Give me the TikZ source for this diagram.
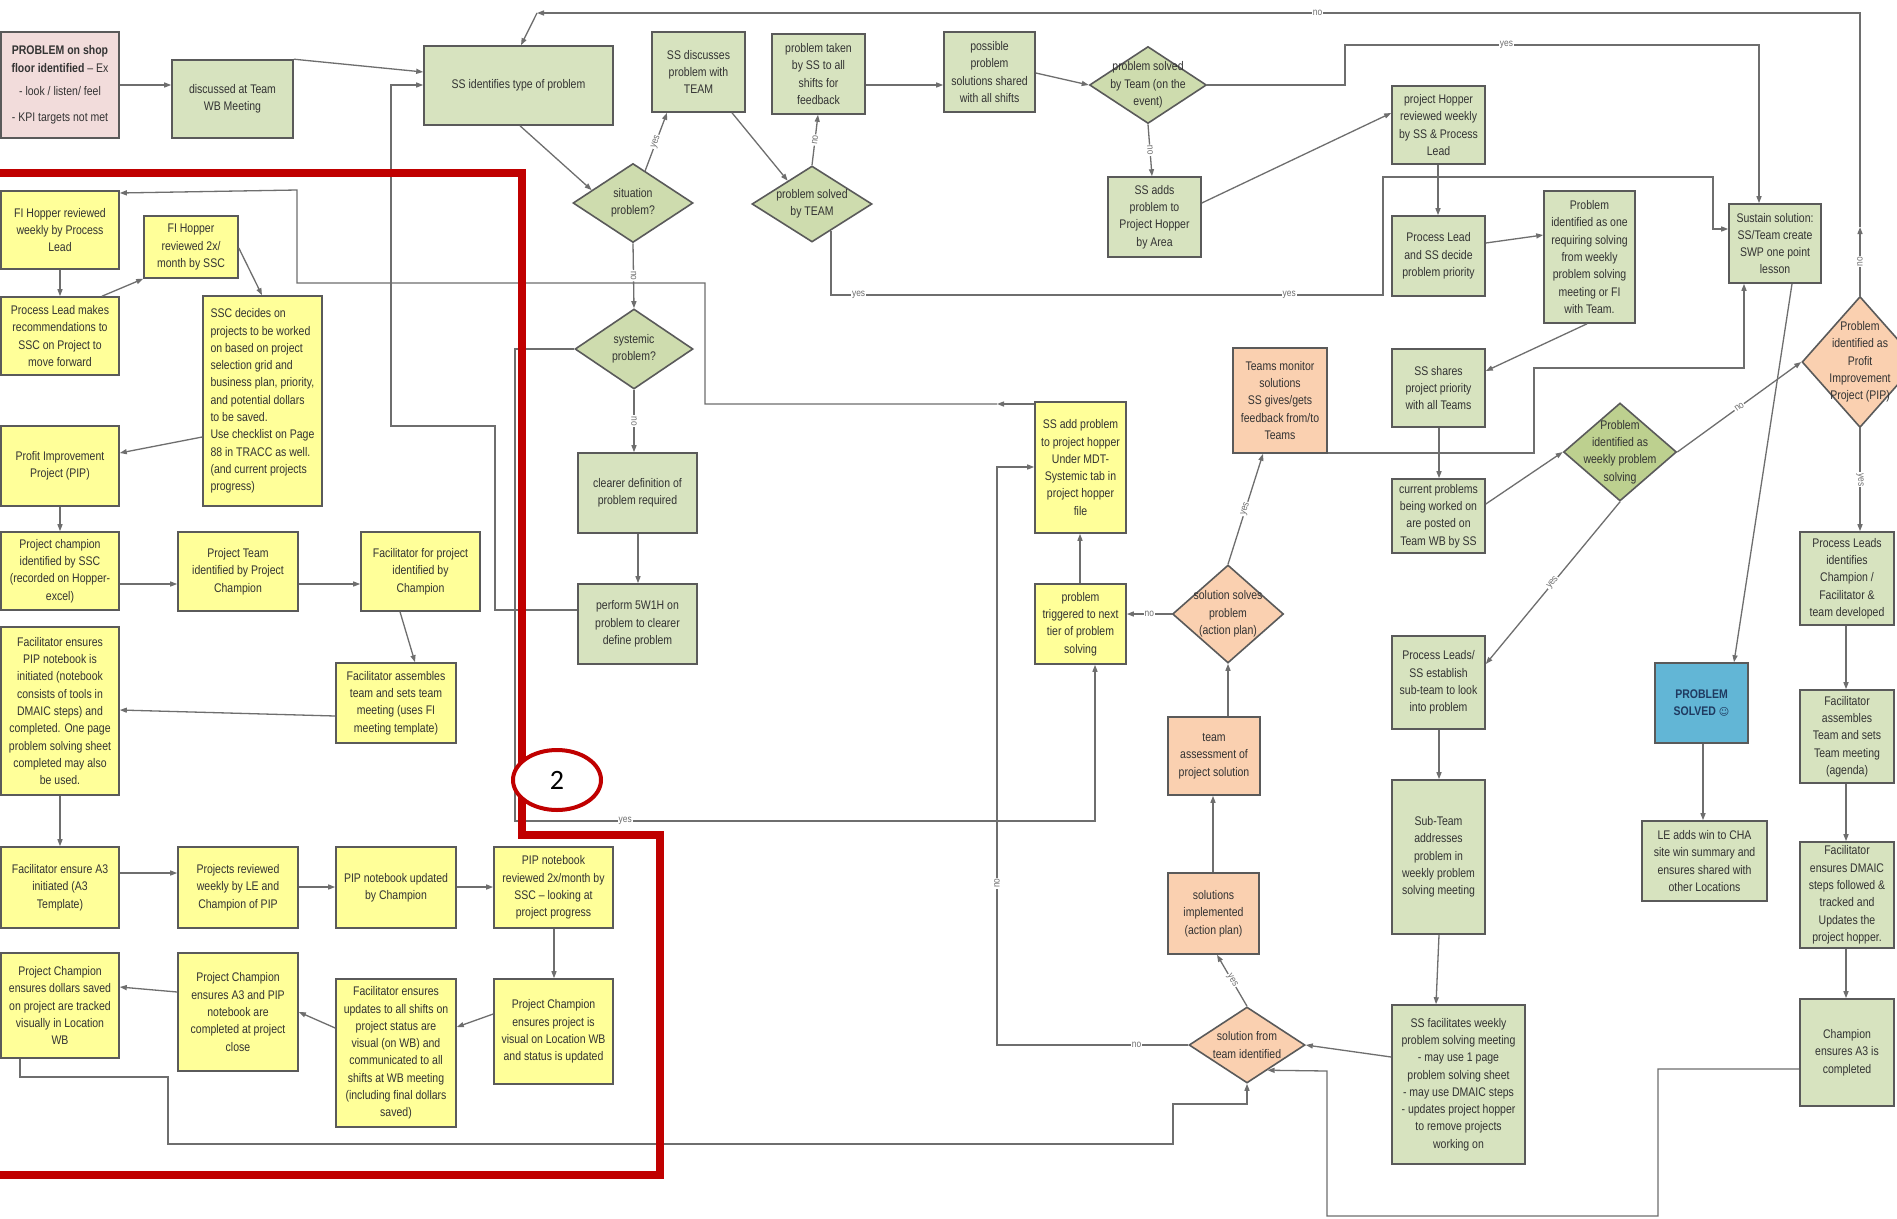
\documentclass[tikz,border=0pt]{standalone}
\usepackage{fontspec}
\setmainfont{Liberation Sans}[FakeStretch=0.84]
\newfontfamily\symf{DejaVu Sans}
\newfontfamily\calf{Carlito}
\usetikzlibrary{shapes.geometric,arrows.meta,calc}
\definecolor{gfill}{HTML}{D7E3BF}
\definecolor{dgfill}{HTML}{CEDCAE}
\definecolor{dkfill}{HTML}{BDD08F}
\definecolor{yfill}{HTML}{FFFF99}
\definecolor{ofill}{HTML}{FAD0B0}
\definecolor{pfill}{HTML}{F2DCDB}
\definecolor{bfill}{HTML}{62B6D6}
\definecolor{edgec}{HTML}{5A5A5A}
\definecolor{lnc}{HTML}{6E6E6E}
\definecolor{txtc}{HTML}{333333}
\definecolor{redl}{HTML}{C00000}
\definecolor{navy}{HTML}{1F3A60}
\tikzset{
  shp/.style={draw=edgec, line width=1.6pt, inner sep=0pt},
  gbx/.style={shp, rectangle, fill=gfill},
  ybx/.style={shp, rectangle, fill=yfill},
  obx/.style={shp, rectangle, fill=ofill},
  pbx/.style={shp, rectangle, fill=pfill},
  bbx/.style={shp, rectangle, fill=bfill},
  dgn/.style={shp, fill=dgfill},
  dgk/.style={shp, fill=dkfill},
  dor/.style={shp, fill=ofill},
  txtn/.style={font=\fontsize{12.5}{17.3}\selectfont, text=txtc, align=center, inner sep=0pt},
  conn/.style={draw=lnc, line width=1.3pt, -{Triangle[length=7pt,width=5pt]}},
  lbl/.style={font=\fontsize{10}{11}\selectfont, text=lnc, fill=white, inner sep=1pt},
}
\newcommand\mybox[8][]{%
  \node[#2, minimum width={#6-#4}, minimum height={#7-#5}] (#3) at ({(#4+#6)/2},{(#5+#7)/2}) {};
  \node[txtn,#1] at (#3.center) {#8};}
\newcommand\mydia[8][]{%
  \node[#2, diamond, minimum width=#6, minimum height=#7] (#3) at (#4,#5) {};
  \node[txtn,#1] at (#3.center) {#8};}
\begin{document}
\begin{tikzpicture}[x=1pt,y=-1pt]
\fill[white] (0,0) rectangle (1897,1218);
\useasboundingbox (0,0) rectangle (1897,1218);
% ---------- top / centre green part
\mybox{pbx}{prob}{1}{32}{119}{138}{\textbf{PROBLEM on shop}\\\textbf{floor identified} -- Ex\\[6pt]- look / listen/ feel\\[9pt]- KPI targets not met}
\mybox{gbx}{disc}{172}{60}{293}{138}{discussed at Team\\WB Meeting}
\mybox{gbx}{ssid}{424}{46}{613}{125}{SS identifies type of problem}
\mybox{gbx}{ssd}{652}{32}{745}{112}{SS discusses\\problem with\\TEAM}
\mybox{gbx}{ptk}{772}{34}{865}{114}{problem taken\\by SS to all\\shifts for\\feedback}
\mybox{gbx}{pos}{944}{32}{1035}{112}{possible\\problem\\solutions shared\\with all shifts}
\mydia{dgn}{pse}{1148}{85}{117}{77}{problem solved\\by Team (on the\\event)}
\mybox{gbx}{ssa}{1108}{177}{1201}{257}{SS adds\\problem to\\Project Hopper\\by Area}
\mydia{dgn}{sit}{633}{203}{120}{79}{situation\\problem?}
\mydia{dgn}{ps2}{812}{204}{120}{76}{problem solved\\by TEAM}
\mydia{dgn}{sys}{634}{349}{118}{80}{systemic\\problem?}
\mybox{gbx}{clr}{578}{453}{697}{533}{clearer definition of\\problem required}
\mybox{gbx}{p5w}{578}{584}{697}{664}{perform 5W1H on\\problem to clearer\\define problem}
% ---------- right part
\mybox{gbx}{phr}{1392}{86}{1485}{164}{project Hopper\\reviewed weekly\\by SS \& Process\\Lead}
\mybox{gbx}{pld}{1392}{216}{1485}{296}{Process Lead\\and SS decide\\problem priority}
\mybox{gbx}{pir}{1544}{191}{1635}{323}{Problem\\identified as one\\requiring solving\\from weekly\\problem solving\\meeting or FI\\with Team.}
\mybox{gbx}{sust}{1729}{204}{1821}{283}{Sustain solution:\\SS/Team create\\SWP one point\\lesson}
\mydia{dor}{pipd}{1860}{362}{116}{131}{Problem\\identified as\\Profit\\Improvement\\Project (PIP)}
\mybox{obx}{tm}{1233}{348}{1327}{453}{Teams monitor\\solutions\\SS gives/gets\\feedback from/to\\Teams}
\mybox{gbx}{sss}{1392}{349}{1485}{427}{SS shares\\project priority\\with all Teams}
\mybox{gbx}{cur}{1392}{479}{1485}{553}{current problems\\being worked on\\are posted on\\Team WB by SS}
\mydia{dgk}{wk}{1620}{452}{113}{98}{Problem\\identified as\\weekly problem\\solving}
\mybox{ybx}{shp}{1035}{402}{1126}{533}{SS add problem\\to project hopper\\Under MDT-\\Systemic tab in\\project hopper\\file}
\mybox{ybx}{ptr}{1035}{584}{1126}{664}{problem\\triggered to next\\tier of problem\\solving}
\mydia{dor}{sol}{1228}{614}{111}{98}{solution solves\\problem\\(action plan)}
\mybox{obx}{tas}{1168}{717}{1260}{795}{team\\assessment of\\project solution}
\mybox{obx}{simp}{1168}{873}{1259}{954}{solutions\\implemented\\(action plan)}
\mydia{dor}{sft}{1247}{1045}{116}{76}{solution from\\team identified}
\mybox{gbx}{pls}{1392}{636}{1485}{729}{Process Leads/\\SS establish\\sub-team to look\\into problem}
\mybox{gbx}{sub}{1392}{780}{1485}{934}{Sub-Team\\addresses\\problem in\\weekly problem\\solving meeting}
\mybox{gbx}{ssf}{1392}{1005}{1525}{1164}{SS facilitates weekly\\problem solving meeting\\- may use 1 page\\problem solving sheet\\- may use DMAIC steps\\- updates project hopper\\to remove projects\\working on}
\mybox[text=navy]{bbx}{solved}{1655}{663}{1748}{743}{\textbf{PROBLEM}\\\textbf{SOLVED} {\symf\fontsize{10}{12}\selectfont ☺}}
\mybox{gbx}{le}{1642}{821}{1767}{901}{LE adds win to CHA\\site win summary and\\ensures shared with\\other Locations}
\mybox{gbx}{pli}{1800}{532}{1894}{625}{Process Leads\\identifies\\Champion /\\Facilitator \&\\team developed}
\mybox{gbx}{fat}{1800}{690}{1894}{783}{Facilitator\\assembles\\Team and sets\\Team meeting\\(agenda)}
\mybox{gbx}{fdm}{1800}{842}{1894}{948}{Facilitator\\ensures DMAIC\\steps followed \&\\tracked and\\Updates the\\project hopper.}
\mybox{gbx}{cha}{1800}{999}{1894}{1106}{Champion\\ensures A3 is\\completed}
% ---------- left yellow part
\mybox{ybx}{fiw}{1}{191}{119}{269}{FI Hopper reviewed\\weekly by Process\\Lead}
\mybox{ybx}{fi2}{144}{216}{238}{278}{FI Hopper\\reviewed 2x/\\month by SSC}
\mybox{ybx}{plm}{1}{297}{119}{375}{Process Lead makes\\recommendations to\\SSC on Project to\\move forward}
\mybox[align=left]{ybx}{ssc}{203}{296}{322}{506}{SSC decides on\\projects to be worked\\on based on project\\selection grid and\\business plan, priority,\\and potential dollars\\to be saved.\\Use checklist on Page\\88 in TRACC as well.\\(and current projects\\progress)}
\mybox{ybx}{pip}{1}{426}{119}{506}{Profit Improvement\\Project (PIP)}
\mybox{ybx}{pch}{1}{532}{119}{610}{Project champion\\identified by SSC\\(recorded on Hopper-\\excel)}
\mybox{ybx}{pteam}{178}{532}{298}{611}{Project Team\\identified by Project\\Champion}
\mybox{ybx}{ffp}{361}{532}{480}{611}{Facilitator for project\\identified by\\Champion}
\mybox{ybx}{fas}{336}{663}{456}{743}{Facilitator assembles\\team and sets team\\meeting (uses FI\\meeting template)}
\mybox{ybx}{fpn}{1}{627}{119}{795}{Facilitator ensures\\PIP notebook is\\initiated (notebook\\consists of tools in\\DMAIC steps) and\\completed. One page\\problem solving sheet\\completed may also\\be used.}
\mybox{ybx}{fa3}{1}{847}{119}{928}{Facilitator ensure A3\\initiated (A3\\Template)}
\mybox{ybx}{prw}{178}{847}{298}{928}{Projects reviewed\\weekly by LE and\\Champion of PIP}
\mybox{ybx}{pnu}{336}{847}{456}{928}{PIP notebook updated\\by Champion}
\mybox{ybx}{pnr}{494}{847}{613}{928}{PIP notebook\\reviewed 2x/month by\\SSC -- looking at\\project progress}
\mybox{ybx}{pcv}{494}{979}{613}{1084}{Project Champion\\ensures project is\\visual on Location WB\\and status is updated}
\mybox{ybx}{feu}{336}{979}{456}{1127}{Facilitator ensures\\updates to all shifts on\\project status are\\visual (on WB) and\\communicated to all\\shifts at WB meeting\\(including final dollars\\saved)}
\mybox{ybx}{pca}{178}{953}{298}{1071}{Project Champion\\ensures A3 and PIP\\notebook are\\completed at project\\close}
\mybox{ybx}{dol}{1}{953}{119}{1058}{Project Champion\\ensures dollars saved\\on project are tracked\\visually in Location\\WB}
% ---------- connectors
\draw[conn] (prob.east |- 0,85) -- (disc.west |- 0,85);
\draw[conn] (disc.north east) -- (ssid.west |- 0,72);
\draw[conn] (p5w.west |- 0,610) -- (495,610) -- (495,426) -- (391,426) -- (391,85) -- (ssid.west |- 0,85);
\draw[conn] (ssid.south -| 520,0) -- ($(sit.west)!0.32!(sit.north)$);
\coordinate (m2) at (1860,227);
\coordinate (m3) at (537,13);
\draw[conn] (pipd.north) -- node[lbl,sloped]{no} (m2);
\draw[conn] (m2) -- (1860,13) -- node[lbl,pos=0.41]{no} (m3);
\draw[conn] (m3) -- (ssid.north -| 521,0);
\draw[conn] ($(sit.north)!0.2!(sit.east)$) -- node[lbl,sloped]{yes} (ssd.south -| 667,0);
\draw[conn] (ssd.south -| 732,0) -- ($(ps2.north)!0.4!(ps2.west)$);
\draw[conn] (ps2.north) -- node[lbl,sloped]{no} (ptk.south -| 818,0);
\draw[conn] (ptk.east |- 0,85) -- (pos.west |- 0,85);
\draw[conn] (pos.east |- 0,73) -- (pse.west);
\draw[conn] (pse.south) -- node[lbl,sloped]{no} (ssa.north -| 1152,0);
\draw[conn] (pse.east) -- (1345,85) -- (1345,45) -- node[lbl,pos=0.39]{yes} (1759,45) -- (sust.north -| 1759,0);
\draw[conn] (ssa.east |- 0,203) -- (phr.west |- 0,113);
\draw[conn] (phr.south -| 1438,0) -- (pld.north -| 1438,0);
\draw[conn] (pld.east |- 0,243) -- (pir.west |- 0,235);
\draw[conn] (pir.south -| 1587,0) -- (sss.east |- 0,371);
\draw[conn] ($(ps2.south)+(19,-12)$) -- (831,295) -- node[lbl,pos=0.05]{yes} node[lbl,pos=0.83]{yes} (1383,295) -- (1383,177) -- (1713,177) -- (1713,229) -- (sust.west |- 0,229);
\draw[conn] (sust.south -| 1792,0) -- (solved.north -| 1734,0);
\draw[conn] (tm.east |- 0,453) -- (1534,453) -- (1534,368) -- (1744,368) -- (sust.south -| 1744,0);
\draw[conn] (sss.south -| 1439,0) -- (cur.north -| 1439,0);
\draw[conn] (cur.east |- 0,504) -- (wk.west);
\draw[conn] (wk.east) -- node[lbl,sloped]{no} (pipd.west);
\draw[conn] (wk.south) -- node[lbl,sloped]{yes} (pls.east |- 0,664);
\draw[conn] (pls.south -| 1439,0) -- (sub.north -| 1439,0);
\draw[conn] (sub.south -| 1439,0) -- (ssf.north -| 1436,0);
\draw[conn] (ssf.west |- 0,1057) -- (sft.east);
\draw[conn] (pipd.south) -- node[lbl,sloped]{yes} (pli.north -| 1860,0);
\draw[conn] (pli.south -| 1846,0) -- (fat.north -| 1846,0);
\draw[conn] (fat.south -| 1846,0) -- (fdm.north -| 1846,0);
\draw[conn] (fdm.south -| 1846,0) -- (cha.north -| 1846,0);
\draw[conn] (solved.south -| 1703,0) -- (le.north -| 1703,0);
\draw[conn] (cha.west |- 0,1069) -- (1658,1069) -- (1658,1216) -- (1327,1216) -- (1327,1071) -- ($(sft.east)!0.65!(sft.south)$);
\draw[conn] (dol.south -| 20,0) -- (20,1077) -- (168,1077) -- (168,1144) -- (1173,1144) -- (1173,1104) -- (1247,1104) -- (sft.south);
\draw[conn] (sft.west) -- node[lbl,pos=0.27]{no} (997,1045) -- node[lbl,sloped,pos=0.28]{no} (997,467) -- (shp.west |- 0,467);
\draw[conn] (sft.north) -- node[lbl,sloped]{yes} (simp.south -| 1217,0);
\draw[conn] (simp.north -| 1213,0) -- (tas.south -| 1213,0);
\draw[conn] (tas.north -| 1228,0) -- (sol.south);
\draw[conn] (sol.west) -- node[lbl]{no} (ptr.east |- 0,614);
\draw[conn] (sol.north) -- node[lbl,sloped]{yes} (tm.south -| 1263,0);
\draw[conn] (ptr.north -| 1080,0) -- (shp.south -| 1080,0);
\draw[conn] (sys.west) -- (515,349) -- (515,821) -- node[lbl,pos=0.19]{yes} (1095,821) -- (ptr.south -| 1095,0);
\draw[conn] (sit.south) -- node[lbl,sloped]{no} (sys.north);
\draw[conn] (sys.south) -- node[lbl,sloped]{no} (clr.north -| 634,0);
\draw[conn] (clr.south -| 638,0) -- (p5w.north -| 638,0);
\coordinate (m1) at (997,404);
\draw[conn] (shp.west |- 0,404) -- (m1);
\draw[conn] (m1) -- (705,404) -- (705,283) -- (297,283) -- (297,190) -- (fiw.east |- 0,193);
% left column
\draw[conn] (fiw.south -| 60,0) -- (plm.north -| 60,0);
\draw[conn] (plm.north -| 102,0) -- (fi2.south west);
\draw[conn] (fi2.east |- 0,248) -- (ssc.north -| 262,0);
\draw[conn] (ssc.west |- 0,437) -- (pip.east |- 0,453);
\draw[conn] (pip.south -| 60,0) -- (pch.north -| 60,0);
\draw[conn] (pch.east |- 0,584) -- (pteam.west |- 0,584);
\draw[conn] (pteam.east |- 0,584) -- (ffp.west |- 0,584);
\draw[conn] (ffp.south -| 400,0) -- (fas.north -| 415,0);
\draw[conn] (fas.west |- 0,716) -- (fpn.east |- 0,710);
\draw[conn] (fpn.south -| 60,0) -- (fa3.north -| 60,0);
\draw[conn] (fa3.east |- 0,873) -- (prw.west |- 0,873);
\draw[conn] (prw.east |- 0,887) -- (pnu.west |- 0,887);
\draw[conn] (pnu.east |- 0,887) -- (pnr.west |- 0,887);
\draw[conn] (pnr.south -| 554,0) -- (pcv.north -| 554,0);
\draw[conn] (pcv.west |- 0,1014) -- (feu.east |- 0,1027);
\draw[conn] (feu.west |- 0,1028) -- (pca.east |- 0,1012);
\draw[conn] (pca.west |- 0,992) -- (dol.east |- 0,987);
% ---------- red highlight
\draw[redl, line width=8pt, line join=miter] (-10,173) -- (522,173) -- (522,835) -- (660,835) -- (660,1175) -- (-10,1175);
\node[draw=redl, line width=4pt, ellipse, fill=white, minimum width=88, minimum height=60, inner sep=0pt] (two) at (557,780) {\calf\fontsize{28}{28}\selectfont 2};
\end{tikzpicture}
\end{document}
